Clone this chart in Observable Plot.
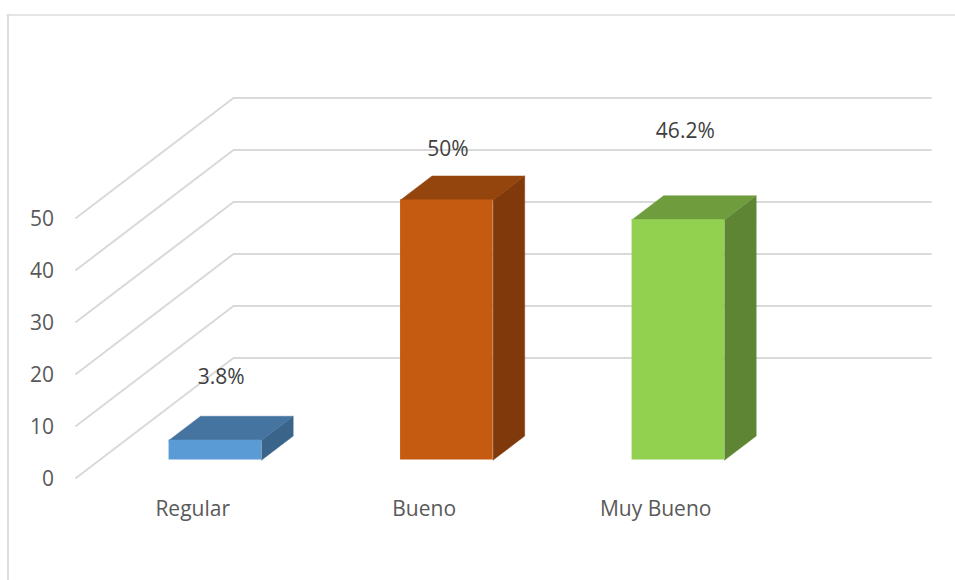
<!DOCTYPE html>
<html>
<head>
<meta charset="utf-8">
<script src="https://cdn.jsdelivr.net/npm/d3@7"></script>
<script src="https://cdn.jsdelivr.net/npm/@observablehq/plot@0.6"></script>
<style>
html,body{margin:0;padding:0;background:#fff;}
svg{display:block;}
</style>
</head>
<body>
<div id="chart"></div>
<script>
const categories = ["Regular", "Bueno", "Muy Bueno"];
const values = [3.8, 50, 46.2];
const valueLabels = ["3.8%", "50%", "46.2%"];
const labelLift = [12.2, 9.8, 17.1];
const labelShift = [0.025, 0.005, 0.03];
const yTicks = [0, 10, 20, 30, 40, 50];
const frontColors = ["#5B9BD5", "#C55A11", "#92D050"];
const topColors = ["#4674A0", "#94440D", "#6F9C3D"];
const sideColors = ["#3A6489", "#7F390B", "#5E8533"];

// Oblique projection of (category position, value, depth) on the two plane scales
const W = 955, H = 580, left = 75.5, zero = 477.5, perCat = 231.5, perUnit = 5.2;
const depthX = 157.5 / perCat, depthY = 120 / perUnit;
const px = (u, d) => u + d * depthX;
const py = (v, d) => v + d * depthY;
const barHalf = 0.2, barFront = 0.15, barBack = 0.35, axisEnd = 3.012;
const toU = p => (p - left) / perCat;
const toV = p => (zero - p) / perUnit;

const grid = yTicks.flatMap(t => [
  {t, x: px(0, 0), y: py(t, 0)},
  {t, x: px(0, 1), y: py(t, 1)},
  {t, x: px(axisEnd, 1), y: py(t, 1)}
]);

const bars = categories.map((c, i) => ({
  c, i, v: values[i], u0: i + 0.5 - barHalf, u1: i + 0.5 + barHalf
}));
const poly = (b, id, fill, pts) => pts.map(([u, v, d]) => ({id: b.c + id, fill, x: px(u, d), y: py(v, d)}));
const tops = bars.flatMap(b => poly(b, "top", topColors[b.i], [
  [b.u0, b.v, barFront], [b.u1, b.v, barFront], [b.u1, b.v, barBack], [b.u0, b.v, barBack], [b.u0, b.v, barFront]
]));
const sides = bars.flatMap(b => poly(b, "side", sideColors[b.i], [
  [b.u1, 0, barFront], [b.u1, 0, barBack], [b.u1, b.v, barBack], [b.u1, b.v, barFront], [b.u1, 0, barFront]
]));

const font = "'Open Sans', 'Noto Sans', sans-serif";
const faces = rows => Plot.line(rows, {
  x: "x", y: "y", z: "id", fill: "fill", stroke: "fill", strokeWidth: 0.5, curve: "linear"
});

const chart = Plot.plot({
  width: W, height: H,
  margin: 0,
  style: {fontFamily: font, background: "#fff"},
  x: {domain: [toU(0), toU(W)], range: [0, W], axis: null},
  y: {domain: [toV(H), toV(0)], range: [H, 0], axis: null},
  marks: [
    Plot.ruleY([toV(14.5)], {x1: toU(6.5), x2: toU(W), stroke: "#dddddd", strokeWidth: 1.5}),
    Plot.ruleX([toU(7.5)], {y1: toV(14), y2: toV(H), stroke: "#dddddd", strokeWidth: 2}),
    Plot.line(grid, {x: "x", y: "y", z: "t", stroke: "#d9d9d9", strokeWidth: 2, curve: "linear"}),
    faces(sides),
    faces(tops),
    Plot.rect(bars, {
      x1: d => px(d.u0, barFront), x2: d => px(d.u1, barFront),
      y1: d => py(0, barFront), y2: d => py(d.v, barFront),
      fill: d => frontColors[d.i]
    }),
    Plot.text(yTicks, {
      x: toU(53.5), y: d => d, text: d => String(d), textAnchor: "end", dy: 1.5,
      fontSize: 21, fill: "#595959"
    }),
    Plot.text(bars, {
      x: d => d.i + 0.5 + 0.004, y: toV(509), text: "c",
      fontSize: 21, fill: "#595959"
    }),
    Plot.text(bars, {
      x: d => px(d.i + 0.5 + labelShift[d.i], barFront),
      y: d => py(d.v + labelLift[d.i], barFront),
      text: d => valueLabels[d.i],
      fontSize: 21, fill: "#404040"
    })
  ]
});
document.getElementById("chart").append(chart);
</script>
</body>
</html>
